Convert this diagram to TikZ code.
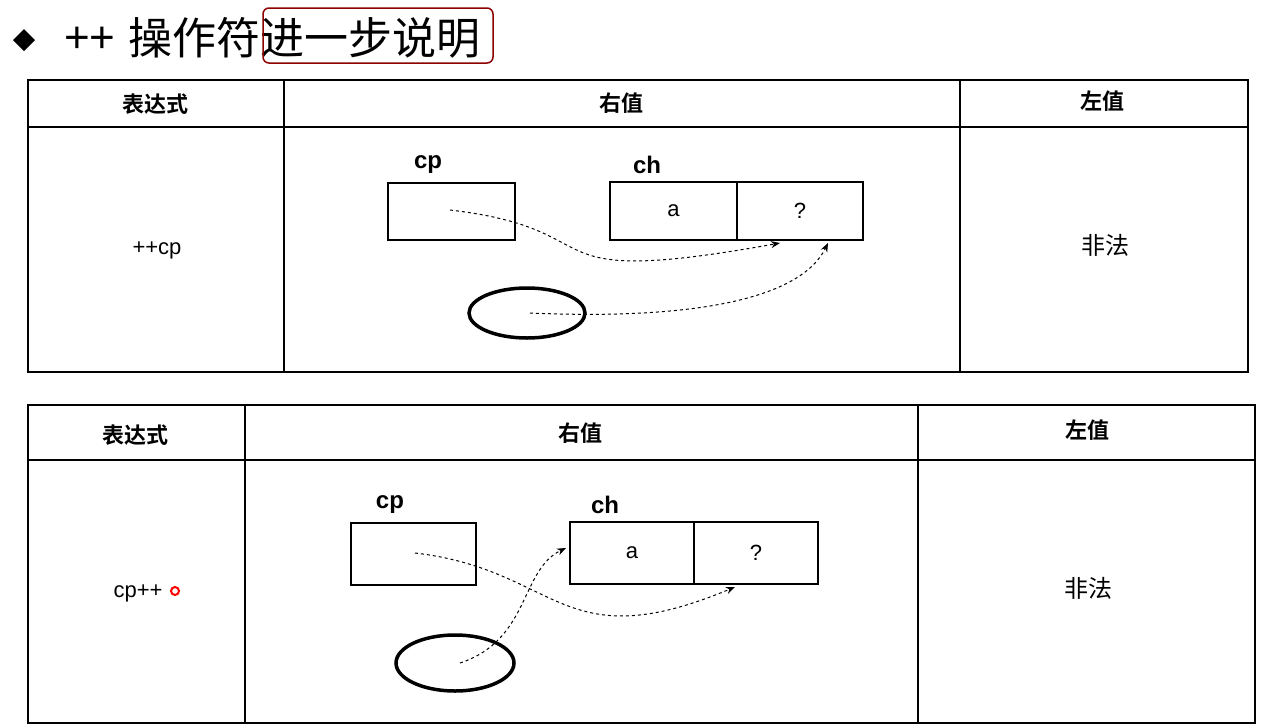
\documentclass[tikz,border=0pt]{standalone}
\usepackage{fontspec}
\usetikzlibrary{arrows.meta}
\setmainfont{Liberation Sans}
\newfontfamily\cjk{Noto Sans CJK SC}
\newfontfamily\cjkb{Noto Sans CJK SC Bold}
\begin{document}
\begin{tikzpicture}[x=1pt,y=-1pt,
  tbl/.style={line width=1.6pt},
  cell/.style={draw,line width=1.6pt,font=\fontsize{22}{22}\selectfont},
  hdr/.style={font=\cjkb\fontsize{22}{22}\selectfont},
  lbl/.style={font=\fontsize{24}{24}\selectfont\bfseries},
  ptr/.style={dashed,line width=1pt,-{Stealth[length=9pt,width=7pt]}}]
\useasboundingbox (0,0) rectangle (1278,728);
\fill (24,29) -- (35,40) -- (24,51) -- (13,40) -- cycle;
\node[anchor=west,inner sep=0,font=\fontsize{44}{44}\selectfont] (pp) at (64,40) {++};
\node[anchor=west,inner sep=0,font=\cjk\fontsize{44}{44}\selectfont] (title) at (128,38) {操作符进一步说明};
\draw[rounded corners=6pt,line width=1.5pt,draw=red!55!black] (263,8) rectangle (493,63);
% table 1
\draw[tbl] (28,80) rectangle (1248,372);
\draw[tbl] (28,127) -- (1248,127) (284,80) -- (284,372) (960,80) -- (960,372);
\node[hdr] (h1) at (155,104) {表达式};
\node[hdr] (h2) at (621,103) {右值};
\node[hdr] (h3) at (1102,101) {左值};
\node[font=\fontsize{22}{22}\selectfont] (e1) at (157,250) {++cp};
\node[font=\cjk\fontsize{24}{24}\selectfont] (l1) at (1105,245) {非法};
\node[cell,minimum width=127,minimum height=57] (cp1) at (451.5,211.5) {};
\node[lbl] at (428,165) {cp};
\node[cell,minimum width=127,minimum height=58] (a1) at (673.5,211) {a};
\node[cell,minimum width=126,minimum height=58] (q1) at (800,211) {?};
\node[lbl] at (647,165) {ch};
\draw[line width=3.5pt] (527,313) ellipse (58 and 25);
\coordinate (s1) at (450,210);
\coordinate (t1) at (780,243);
\coordinate (s2) at (530,313);
\coordinate (t2) at (828,243);
\draw[ptr] (s1) .. controls (620,230) and (520,290) .. (t1);
\draw[ptr] (s2) .. controls (690,320) and (800,300) .. (t2);
% table 2
\draw[tbl] (28,405) rectangle (1255,723);
\draw[tbl] (28,460) -- (1255,460) (245,405) -- (245,723) (918,405) -- (918,723);
\node[hdr] (g1) at (135,435) {表达式};
\node[hdr] (g2) at (580,433) {右值};
\node[hdr] (g3) at (1087,430) {左值};
\node[font=\fontsize{22}{22}\selectfont] (e2) at (138,593) {cp++};
\draw[red,line width=2pt] (175,591) circle (4);
\node[font=\cjk\fontsize{24}{24}\selectfont] (l2) at (1088,588) {非法};
\node[cell,minimum width=125,minimum height=62] (cp2) at (413.5,554) {};
\node[lbl] at (390,505) {cp};
\node[cell,minimum width=124,minimum height=62] (a2) at (632,553) {a};
\node[cell,minimum width=124,minimum height=62] (q2) at (756,553) {?};
\node[lbl] at (605,505) {ch};
\draw[line width=3.5pt] (455,663) ellipse (59 and 28);
\coordinate (s3) at (415,553);
\coordinate (t3) at (735,587);
\coordinate (s4) at (460,663);
\coordinate (t4) at (566,548);
\draw[ptr] (s3) .. controls (560,570) and (560,660) .. (t3);
\draw[ptr] (s4) .. controls (530,640) and (520,570) .. (t4);
\end{tikzpicture}
\end{document}
